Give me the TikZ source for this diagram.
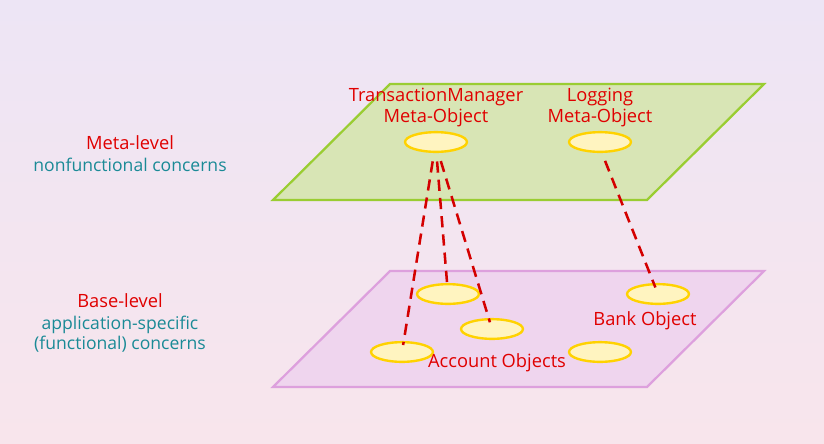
\documentclass[tikz,border=0pt]{standalone}
\usepackage{fontspec}
\setmainfont{Open Sans}
\usepackage{tikz}
\usetikzlibrary{shapes,positioning}

\definecolor{bgtop}{HTML}{EDE5F5}
\definecolor{bgbot}{HTML}{F8E5EC}
\definecolor{metafill}{HTML}{D8E5B5}
\definecolor{metadraw}{HTML}{9ACD32}
\definecolor{basefill}{HTML}{EFD5EE}
\definecolor{basedraw}{HTML}{DDA0DD}
\definecolor{objfill}{HTML}{FFF4C0}
\definecolor{objdraw}{HTML}{FFD200}
\definecolor{linkred}{HTML}{D40000}
\definecolor{txtred}{HTML}{E00000}
\definecolor{txtteal}{HTML}{1A8A96}

\begin{document}
\begin{tikzpicture}[x=0.025cm,y=-0.025cm]
      \tikzstyle{obj}=[ellipse,line width=1.7pt,draw=objdraw,fill=objfill,minimum width=44pt,minimum height=14pt,inner sep=0pt]
      \tikzstyle{lbl}=[text=txtred,font=\fontsize{13}{14.4}\selectfont,inner sep=1pt,align=center]
      \tikzstyle{note}=[text=txtteal,font=\fontsize{12.5}{14.4}\selectfont,inner sep=1pt,align=center]
      \tikzstyle{link}=[linkred,line width=1.8pt,dash pattern=on 8pt off 5pt]

      % background
      \shade[top color=bgtop,bottom color=bgbot] (0,0) rectangle (824,443);
      \useasboundingbox (0,0) rectangle (824,443);

      % the two levels
      \draw[line width=1.6pt,draw=metadraw,fill=metafill] (390,84) -- (764,84) -- (647,200) -- (273,200) -- cycle;
      \draw[line width=1.6pt,draw=basedraw,fill=basefill] (390,271) -- (764,271) -- (647,387) -- (273,387) -- cycle;

      \begin{scope}
        \node[lbl](metatitle) at (130,143){Meta-level};
        \node[note,below=3pt of metatitle](metanote){nonfunctional concerns};
        \node[lbl](basetitle) at (120,301){Base-level};
        \node[note,below=3pt of basetitle](basenote){application-specific\\(functional) concerns};
      \end{scope}

      \begin{scope}
        \node[obj](tm) at (436,142){};
        \node[obj](log) at (600,142){};
        \node[lbl,above=2pt of tm](tmlbl){TransactionManager\\Meta-Object};
        \node[lbl,above=2pt of log](loglbl){Logging\\Meta-Object};

        \node[obj](acc1) at (448,294){};
        \node[obj](acc2) at (492,329){};
        \node[obj](acc3) at (402,352){};
        \node[obj](acc4) at (600,352){};
        \node[obj](bank) at (658,294){};
        \node[lbl](banklbl) at (645,321){Bank Object};
        \node[lbl](acclbl) at (497,363){Account Objects};

        \path[link,shorten <=6pt,shorten >=5pt]
        (tm.-100) edge (acc3.center)
        (tm.-88) edge (acc1.center)
        (tm.-78) edge (acc2.center)
        (log.-80) edge (bank.center);
      \end{scope}
    \end{tikzpicture}
\end{document}
